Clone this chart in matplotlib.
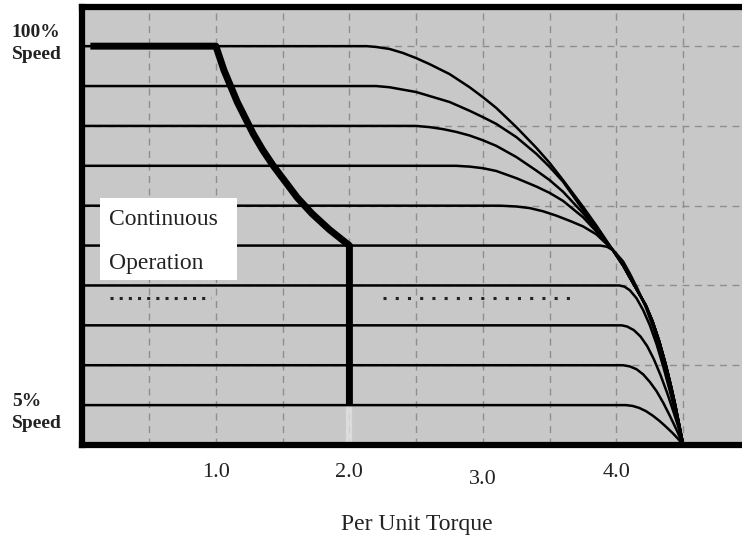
import numpy as np
import matplotlib
matplotlib.use('Agg')
from matplotlib import pyplot as plt
from matplotlib.patches import Rectangle
from matplotlib import transforms

# speed levels (per unit) and the torque/speed points of each curve
levels = [1.0, 0.9, 0.8, 0.7, 0.6, 0.5, 0.4, 0.3, 0.2, 0.1]

# common falling edge shared by the upper curves
env_x = [3.97, 4.05, 4.1, 4.16, 4.22, 4.27, 4.32, 4.37, 4.41, 4.44, 4.47, 4.5]
env_y = [0.49, 0.45, 0.42, 0.385, 0.35, 0.31, 0.26, 0.2, 0.145, 0.1, 0.05, 0.0]

curves_x = {
    1.0: [0, 2.13, 2.2, 2.3, 2.4, 2.5, 2.6, 2.75, 2.9, 3.0, 3.1, 3.25, 3.4, 3.5, 3.6, 3.75, 3.85] + env_x,
    0.9: [0, 2.2, 2.3, 2.4, 2.5, 2.6, 2.75, 2.9, 3.0, 3.1, 3.25, 3.4, 3.5, 3.6, 3.75, 3.85] + env_x,
    0.8: [0, 2.5, 2.6, 2.7, 2.8, 2.9, 3.0, 3.1, 3.25, 3.4, 3.5, 3.6, 3.75, 3.85] + env_x,
    0.7: [0, 2.8, 2.9, 3.0, 3.1, 3.25, 3.4, 3.5, 3.6, 3.75, 3.85] + env_x,
    0.6: [0, 3.13, 3.25, 3.35, 3.45, 3.55, 3.65, 3.75, 3.85] + env_x,
    0.5: [0, 3.88, 3.93, 3.98, 4.05, 4.1, 4.16, 4.22, 4.28, 4.33, 4.38, 4.42, 4.46, 4.5],
    0.4: [0, 4.02, 4.06, 4.1, 4.15, 4.2, 4.25, 4.3, 4.35, 4.4, 4.45, 4.5],
    0.3: [0, 4.04, 4.08, 4.13, 4.18, 4.23, 4.28, 4.33, 4.38, 4.43, 4.47, 4.5],
    0.2: [0, 4.05, 4.1, 4.15, 4.2, 4.25, 4.3, 4.35, 4.4, 4.45, 4.5],
    0.1: [0, 4.07, 4.12, 4.17, 4.22, 4.27, 4.32, 4.37, 4.42, 4.46, 4.5],
}
curves_y = {
    1.0: [1.0, 1.0, 0.998, 0.993, 0.983, 0.97, 0.955, 0.93, 0.897, 0.872, 0.845, 0.797, 0.745, 0.707, 0.664, 0.597, 0.55] + env_y,
    0.9: [0.9, 0.9, 0.897, 0.891, 0.885, 0.875, 0.86, 0.838, 0.822, 0.805, 0.772, 0.73, 0.697, 0.66, 0.589, 0.545] + env_y,
    0.8: [0.8, 0.8, 0.797, 0.792, 0.785, 0.776, 0.764, 0.75, 0.722, 0.688, 0.664, 0.635, 0.581, 0.54] + env_y,
    0.7: [0.7, 0.7, 0.698, 0.694, 0.687, 0.669, 0.648, 0.632, 0.612, 0.571, 0.535] + env_y,
    0.6: [0.6, 0.6, 0.598, 0.594, 0.586, 0.575, 0.562, 0.548, 0.528] + env_y,
    0.5: [0.5, 0.5, 0.497, 0.487, 0.46, 0.43, 0.39, 0.345, 0.29, 0.235, 0.17, 0.115, 0.06, 0.0],
    0.4: [0.4, 0.4, 0.397, 0.388, 0.368, 0.338, 0.3, 0.253, 0.197, 0.135, 0.07, 0.0],
    0.3: [0.3, 0.3, 0.297, 0.288, 0.272, 0.248, 0.215, 0.175, 0.13, 0.08, 0.038, 0.0],
    0.2: [0.2, 0.2, 0.197, 0.19, 0.177, 0.158, 0.135, 0.106, 0.073, 0.038, 0.0],
    0.1: [0.1, 0.1, 0.098, 0.093, 0.085, 0.074, 0.061, 0.046, 0.03, 0.016, 0.0],
}

# continuous operation boundary
cont_x = [0.06, 1.0, 1.03, 1.06, 1.11, 1.16, 1.22, 1.28, 1.35, 1.43, 1.52, 1.61, 1.72, 1.85, 2.0, 2.0]
cont_y = [1.0, 1.0, 0.97, 0.94, 0.9, 0.86, 0.82, 0.78, 0.74, 0.7, 0.66, 0.62, 0.58, 0.54, 0.5, 0.1]

dots_left = ([0.21, 0.96], [0.368, 0.368])
dots_right = ([2.25, 3.69], [0.368, 0.368])

tick_vals = [1.0, 2.0, 3.0, 4.0]
tick_labels = ['1.0', '2.0', '3.0', '4.0']

serif = ['Liberation Serif', 'DejaVu Serif']

fig = plt.figure(figsize=(7.42, 5.44), dpi=100)
ax = fig.add_axes([0.111, 0.182, 0.889, 0.805])
ax.set_facecolor('#c8c8c8')
ax.set_xlim(0, 4.94)
ax.set_ylim(0, 1.098)

ax.set_xticks(np.arange(0.5, 4.9, 0.5))
ax.set_yticks([0.2, 0.4, 0.6, 0.8, 1.0])
ax.tick_params(length=0, labelbottom=False, labelleft=False)
ax.grid(True, color='#8e8e8e', linestyle=(0, (5, 4)), linewidth=1.0)
ax.set_axisbelow(True)

for s in ['left', 'top', 'bottom']:
    ax.spines[s].set_linewidth(4.5)
    ax.spines[s].set_color('black')
ax.spines['right'].set_visible(False)

for lv in levels:
    ax.plot(curves_x[lv], curves_y[lv], color='black', linewidth=1.8, zorder=3,
            solid_joinstyle='round')

ax.plot(cont_x, cont_y, color='black', linewidth=5, zorder=4,
        solid_joinstyle='round', solid_capstyle='butt')
# faint trace below the vertical boundary
ax.plot([2.0, 2.0], [0.1, 0.0], color='#e2e2e2', linewidth=4.5, zorder=2, alpha=0.8)

ax.plot(*dots_left, color='#222222', linestyle=(0, (1, 2)), linewidth=2.2, zorder=3)
ax.plot(*dots_right, color='#222222', linestyle=(0, (1, 3)), linewidth=2.2, zorder=3)

ax.add_patch(Rectangle((0.13, 0.414), 1.03, 0.205, facecolor='white',
                       edgecolor='none', zorder=5))
ax.text(0.2, 0.565, 'Continuous', fontsize=17, family=serif, color='#222222',
        va='center', ha='left', zorder=6)
ax.text(0.2, 0.455, 'Operation', fontsize=17, family=serif, color='#222222',
        va='center', ha='left', zorder=6)

trans = transforms.blended_transform_factory(ax.transData, ax.transAxes)
for v, lab in zip(tick_vals, tick_labels):
    yoff = -0.078 if lab == '3.0' else -0.062
    ax.text(v, yoff, lab, transform=trans, ha='center', va='center',
            fontsize=16, family=serif, color='#222222', clip_on=False)

fig.text(0.562, 0.035, 'Per Unit Torque', ha='center', va='center',
         fontsize=17, family=serif, color='#222222')
fig.text(0.016, 0.92, '100%\nSpeed', ha='left', va='center', fontsize=14,
         family=serif, fontweight='bold', color='#222222', linespacing=1.4)
fig.text(0.016, 0.242, '5%\nSpeed', ha='left', va='center', fontsize=14,
         family=serif, fontweight='bold', color='#222222', linespacing=1.4)

fig.savefig('out.png', dpi=100)
